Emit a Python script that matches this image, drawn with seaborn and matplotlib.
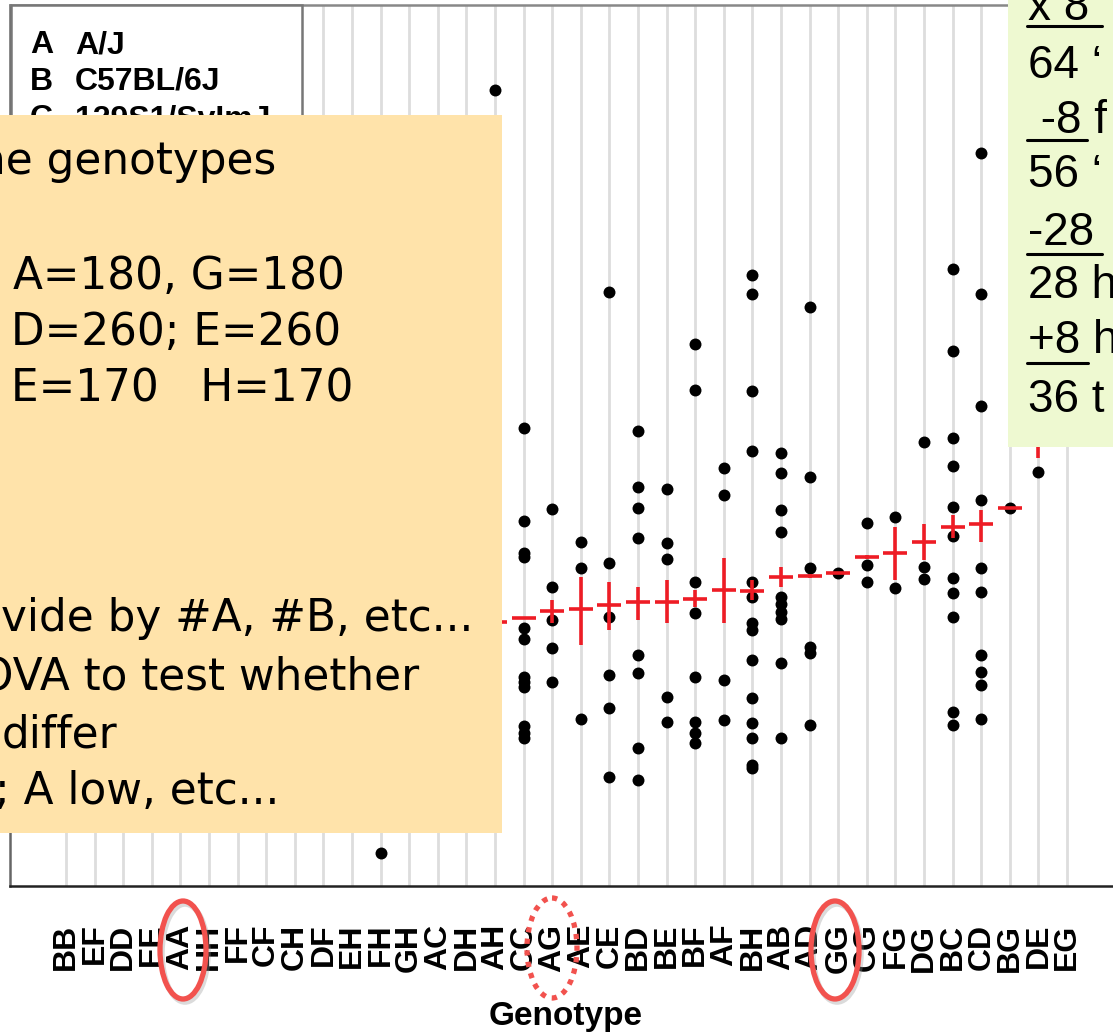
import numpy as np
import pandas as pd
import matplotlib
matplotlib.use("Agg")
import matplotlib.pyplot as plt
from matplotlib.patches import Rectangle, Ellipse
import seaborn as sns

# genotype order along the x axis
genotypes = ["BB", "EF", "DD", "EE", "AA", "HH", "FF", "CF", "CH", "DF", "EH", "FH",
             "GH", "AC", "DH", "AH", "CC", "AG", "AE", "CE", "BD", "BE", "BF", "AF",
             "BH", "AB", "AD", "GG", "CG", "FG", "DG", "BC", "CD", "BG", "DE", "EG"]

# individual phenotype values (only the ones not covered on the slide)
dot_values = [
    [], [], [], [], [], [], [], [], [], [], [],
    [3.3],                                                                  # FH
    [], [], [],
    [79.6],                                                                 # AH
    [45.8, 36.5, 33.3, 32.9, 25.8, 24.7, 20.9, 20.4, 19.9, 16.0, 15.3, 14.8],  # CC
    [37.7, 29.9, 26.6, 23.8, 20.4],                                         # AG
    [34.4, 31.8, 16.7],                                                     # AE
    [59.4, 32.3, 26.9, 21.1, 17.8, 10.9],                                   # CE
    [45.5, 39.9, 37.8, 34.8, 23.1, 21.3, 13.8, 10.6],                       # BD
    [39.7, 34.3, 32.7, 18.9, 16.4],                                         # BE
    [54.2, 49.6, 30.4, 27.3, 20.9, 16.4, 15.3, 14.3],                       # BF
    [41.8, 39.1, 20.6, 16.6],                                               # AF
    [61.1, 59.2, 49.5, 43.5, 30.4, 28.9, 26.3, 25.6, 22.6, 18.8, 16.3, 14.8, 12.1, 11.8],  # BH
    [43.3, 41.3, 37.6, 35.4, 28.9, 28.2, 27.4, 26.7, 22.3, 14.8],           # AB
    [57.9, 40.9, 31.8, 23.9, 23.3, 16.1],                                   # AD
    [31.3],                                                                 # GG
    [36.3, 32.1, 30.4],                                                     # CG
    [36.9, 29.8],                                                           # FG
    [44.4, 31.9, 30.7],                                                     # DG
    [61.7, 53.5, 44.8, 42.0, 37.9, 35.0, 30.8, 29.3, 26.9, 17.4, 16.1],     # BC
    [73.3, 59.2, 48.0, 38.6, 31.8, 29.4, 23.1, 21.4, 20.1, 16.7],           # CD
    [37.8],                                                                 # BG
    [41.4],                                                                 # DE
    [],                                                                     # EG
]

nan = np.nan
# genotype means with +/- 1 SE (red crosses)
mean_values = [nan] * 15 + [26.4, 26.8, 27.5, 27.7, 28.1, 28.4, 28.4, 28.7, 29.6, 29.5,
                            30.9, 31.0, 31.3, 32.9, 33.3, 34.4, 35.9, 36.2, 37.8, 44.6, nan]
se_low = [nan] * 15 + [25.9, 26.8, 26.3, 24.1, 25.6, 26.6, 26.3, 27.9, 26.3, 28.6,
                       29.9, 30.8, 31.3, 32.7, 30.6, 32.6, 34.8, 34.4, 37.8, 42.8, nan]
se_high = [nan] * 15 + [26.9, 26.8, 28.6, 30.9, 30.4, 29.9, 30.6, 29.6, 32.8, 30.6,
                        31.9, 31.2, 31.3, 33.1, 35.9, 36.2, 37.1, 37.6, 37.8, 46.6, nan]

strains = [("A", "A/J"), ("B", "C57BL/6J"), ("C", "129S1/SvImJ"), ("D", "NOD/ShiLtJ"),
           ("E", "NZO/HlLtJ"), ("F", "CAST/EiJ"), ("G", "PWK/PhJ"), ("H", "WSB/EiJ")]

orange_lines = ["he genotypes", "A=180, G=180", "D=260; E=260", "E=170   H=170",
                "vide by #A, #B, etc...", "OVA to test whether", "differ", "; A low, etc..."]
green_lines = ["x 8", "64 \u2018", " -8 f", "56 \u2018", "-28", "28 h", "+8 h", "36 t"]

df = pd.DataFrame([(g, v) for g, vals in zip(genotypes, dot_values) for v in vals],
                  columns=["genotype", "value"])

sns.set_style("white")
plt.rcParams["font.family"] = ["Liberation Sans", "DejaVu Sans"]
plt.rcParams["text.color"] = "black"
plt.rcParams["axes.labelcolor"] = "black"
plt.rcParams["xtick.color"] = "black"

W, H = 1113, 1033
fig = plt.figure(figsize=(W / 100, H / 100), dpi=100)
ax = fig.add_axes([10 / W, 147 / H, 1112 / W, 881 / H])

sns.stripplot(data=df, x="genotype", y="value", order=genotypes, jitter=False,
              color="black", size=8.6, linewidth=0, ax=ax, zorder=3)

pos = np.arange(len(genotypes))
means = np.array(mean_values)
lo = means - np.array(se_low)
hi = np.array(se_high) - means
ax.errorbar(pos, means, yerr=[lo, hi], fmt="_", color="#EE1C25", ms=17, mew=2.6,
            elinewidth=2.6, capsize=0, zorder=4)

ax.set_xlim(-1.958, 36.92)
ax.set_ylim(0, 88.1)
ax.set_yticks([])
ax.set_ylabel("")
ax.grid(axis="x", color="#DDDDDD", lw=2)
ax.set_axisbelow(True)
ax.tick_params(axis="x", length=14, width=1.5, color="#333333", pad=13,
               labelsize=23, labelrotation=90)
for lab in ax.get_xticklabels():
    lab.set_fontweight("bold")
ax.set_xlabel("Genotype", fontsize=24, fontweight="bold")
ax.xaxis.set_label_coords(0.5, -0.131)
ax.spines["left"].set_color("#666666")
ax.spines["top"].set_color("#888888")
ax.spines["bottom"].set_color("#222222")
for s in ["left", "top", "bottom"]:
    ax.spines[s].set_linewidth(1.8)

# slide overlays in pixel coordinates
ov = fig.add_axes([0, 0, 1, 1], zorder=10)
ov.set_xlim(0, W)
ov.set_ylim(H, 0)
ov.axis("off")

ov.add_patch(Rectangle((11, 5), 291, 325, fc="white", ec="#777777", lw=1.8, zorder=1))
for i, (code, name) in enumerate(strains):
    yb = 53 + 37 * i
    ov.text(30, yb, code, fontsize=23, fontweight="bold", va="baseline", zorder=2)
    ov.text(75, yb, name, fontsize=23, fontweight="bold", va="baseline", zorder=2)

ov.add_patch(Rectangle((-5, 115), 507, 718, fc="#FFE3AA", ec="none", zorder=3))
orange_x = [-22, 13, 11, 11, 1, -21, 2, -5]
orange_y = [174, 289, 345, 402, 631, 689, 747, 804]
for txt, x, y in zip(orange_lines, orange_x, orange_y):
    ov.text(x, y, txt, fontsize=31.5, family="DejaVu Sans", va="baseline", zorder=4)

ov.add_patch(Rectangle((1008, -5), 120, 452, fc="#EEF9D1", ec="none", zorder=3))
green_y = [20, 78, 133, 187, 245, 298, 353, 412]
for txt, y in zip(green_lines, green_y):
    ov.text(1028, y, txt, fontsize=33, va="baseline", zorder=4)
for x0, x1, y in [(1027, 1102, 26), (1027, 1087, 140), (1027, 1102, 254), (1027, 1088, 363)]:
    ov.plot([x0, x1], [y, y], color="black", lw=2.2, zorder=4)

for cx, cy, w, h, ls in [(183, 950, 46, 98, "solid"), (552, 948, 50, 100, (0, (1.0, 1.2))),
                         (835, 950, 48, 98, "solid")]:
    if ls == "solid":
        ov.add_patch(Ellipse((cx + 2, cy + 3), w, h, fill=False, ec="#999999", lw=4,
                             alpha=0.35, zorder=5))
    ov.add_patch(Ellipse((cx, cy), w, h, fill=False, ec="#F2524E", lw=3.8, ls=ls, zorder=6))

fig.savefig("out.png", dpi=100)
